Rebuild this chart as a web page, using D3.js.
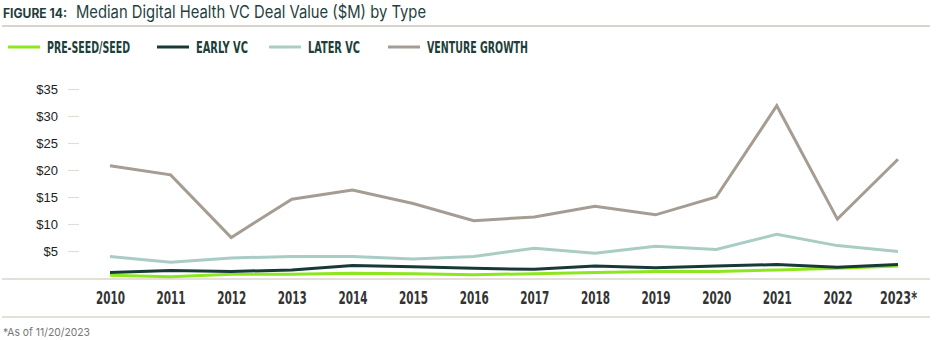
<!DOCTYPE html>
<html>
<head>
<meta charset="utf-8">
<script src="https://cdn.jsdelivr.net/npm/d3@7"></script>
<style>
  body { margin: 0; background: #fff; }
  svg { display: block; }
</style>
</head>
<body>
<svg width="945" height="340"></svg>
<script>
const years = ["2010","2011","2012","2013","2014","2015","2016","2017","2018","2019","2020","2021","2022","2023*"];
const seedVals    = [0.5, 0.25, 0.7, 0.7, 0.9, 0.8, 0.6, 0.8, 1.0, 1.2, 1.2, 1.5, 1.8, 2.2];
const earlyVals   = [1.0, 1.4, 1.2, 1.5, 2.3, 2.1, 1.8, 1.6, 2.2, 1.9, 2.2, 2.5, 2.0, 2.5];
const laterVals   = [4.0, 2.9, 3.7, 4.0, 4.0, 3.5, 4.0, 5.5, 4.6, 5.9, 5.3, 8.1, 6.0, 4.9];
const growthVals  = [20.8, 19.1, 7.5, 14.6, 16.3, 13.8, 10.6, 11.3, 13.3, 11.7, 15.0, 31.9, 10.9, 22.0];
const yTicks = [5, 10, 15, 20, 25, 30, 35];

const seriesNames = ["PRE-SEED/SEED", "EARLY VC", "LATER VC", "VENTURE GROWTH"];
const seriesColors = ["#8ee620", "#173a39", "#a9ccc5", "#a59d93"];
const seriesData = [seedVals, earlyVals, laterVals, growthVals];

const svg = d3.select("svg");
const condensed = "'Liberation Sans Narrow','DejaVu Sans Condensed','Roboto',sans-serif";

// title row
svg.append("text")
  .attr("x", 3).attr("y", 18)
  .attr("font-family", "'Inter','Roboto',sans-serif")
  .attr("font-weight", 700)
  .attr("font-size", 12.5)
  .attr("fill", "#1e3d3b")
  .attr("textLength", 64).attr("lengthAdjust", "spacingAndGlyphs")
  .text("FIGURE 14:");
svg.append("text")
  .attr("x", 76).attr("y", 18)
  .attr("font-family", "'Inter','Lato',sans-serif")
  .attr("font-weight", 400)
  .attr("font-size", 17)
  .attr("fill", "#1f403e")
  .attr("textLength", 350).attr("lengthAdjust", "spacingAndGlyphs")
  .text("Median Digital Health VC Deal Value ($M) by Type");

svg.append("line")
  .attr("x1", 2).attr("x2", 930).attr("y1", 26).attr("y2", 26)
  .attr("stroke", "#cfc6bc").attr("stroke-width", 1.5);

// legend
const legendX = [8, 157, 269, 388];
const legendW = [83, 52, 52, 101];
const legend = svg.selectAll("g.leg")
  .data(seriesNames)
  .enter()
  .append("g")
  .attr("class", "leg")
  .attr("transform", (d, i) => `translate(${legendX[i]},47)`);
legend.append("line")
  .attr("x1", 0).attr("x2", 32).attr("y1", 0).attr("y2", 0)
  .attr("stroke", (d, i) => seriesColors[i])
  .attr("stroke-width", 3);
legend.append("text")
  .attr("x", 39).attr("y", 6)
  .attr("font-family", condensed)
  .attr("font-weight", 700)
  .attr("font-size", 15)
  .attr("fill", "#1d3f3c")
  .attr("textLength", (d, i) => legendW[i])
  .attr("lengthAdjust", "spacingAndGlyphs")
  .text(d => d);

// scales
const x = d3.scalePoint().domain(years).range([110, 898]);
const y = d3.scaleLinear().domain([0, 35]).range([278, 89]);

// y axis: short tick dashes with dollar labels
const yAxis = svg.append("g").attr("transform", "translate(79,0)")
  .call(d3.axisLeft(y).tickValues(yTicks).tickSize(11).tickPadding(10)
    .tickFormat(d => "$" + d));
yAxis.select(".domain").remove();
yAxis.selectAll(".tick line").attr("stroke", "#e2ded6").attr("stroke-width", 1.2);
yAxis.selectAll(".tick text")
  .attr("font-family", "'Liberation Sans','Roboto',sans-serif")
  .attr("font-size", 13)
  .attr("fill", "#222");

// baseline and lower separator
svg.append("line")
  .attr("x1", 2).attr("x2", 930).attr("y1", 279).attr("y2", 279)
  .attr("stroke", "#e4dfd8").attr("stroke-width", 2);
svg.append("line")
  .attr("x1", 2).attr("x2", 930).attr("y1", 317).attr("y2", 317)
  .attr("stroke", "#e4dfd8").attr("stroke-width", 2);

// x axis labels
const xAxis = svg.append("g").attr("transform", "translate(0,279)")
  .call(d3.axisBottom(x).tickSize(0).tickPadding(13));
xAxis.select(".domain").remove();
xAxis.selectAll(".tick text")
  .attr("font-family", condensed)
  .attr("font-weight", 700)
  .attr("font-size", 17.5)
  .attr("fill", "#333")
  .attr("textLength", d => d.length > 4 ? 37 : 29)
  .attr("lengthAdjust", "spacingAndGlyphs");

// series lines, growth drawn first so the small series sit on top
const line = d3.line()
  .x((d, i) => x(years[i]))
  .y(d => y(d));
const order = [3, 2, 0, 1];
svg.append("g").selectAll("path")
  .data(order)
  .enter()
  .append("path")
  .attr("d", k => line(seriesData[k]))
  .attr("fill", "none")
  .attr("stroke", k => seriesColors[k])
  .attr("stroke-width", 3)
  .attr("stroke-linejoin", "miter");

// footnote
svg.append("text")
  .attr("x", 3).attr("y", 336)
  .attr("font-family", "'Inter','Roboto',sans-serif")
  .attr("font-size", 11)
  .attr("fill", "#777")
  .attr("textLength", 87).attr("lengthAdjust", "spacingAndGlyphs")
  .text("*As of 11/20/2023");
</script>
</body>
</html>
